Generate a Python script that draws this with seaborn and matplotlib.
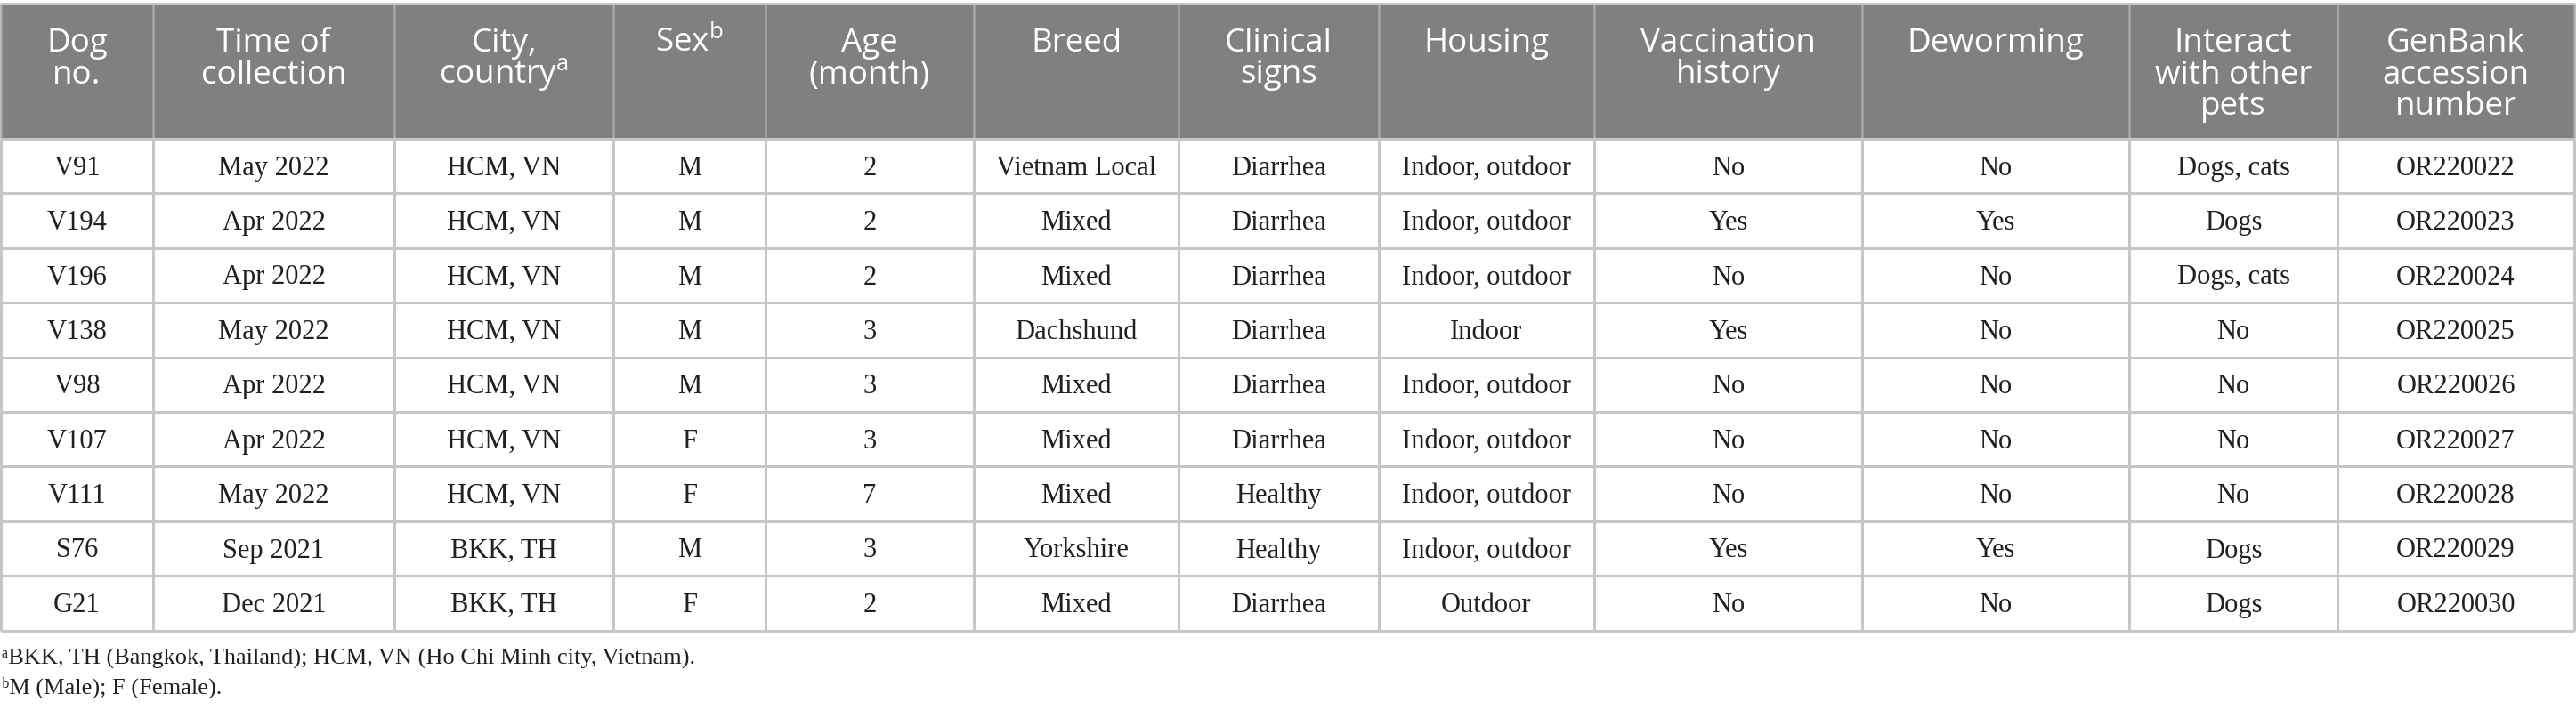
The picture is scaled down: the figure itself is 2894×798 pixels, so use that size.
import matplotlib
matplotlib.use("Agg")
import matplotlib.pyplot as plt
import seaborn as sns

# ---------------- data ----------------
headers = [
    ["Dog", "no."],
    ["Time of", "collection"],
    ["City,", r"country$^{\mathrm{a}}$"],
    [r"Sex$^{\mathrm{b}}$"],
    ["Age", "(month)"],
    ["Breed"],
    ["Clinical", "signs"],
    ["Housing"],
    ["Vaccination", "history"],
    ["Deworming"],
    ["Interact", "with other", "pets"],
    ["GenBank", "accession", "number"],
]
dog_no = ["V91", "V194", "V196", "V138", "V98", "V107", "V111", "S76", "G21"]
collection_time = ["May 2022", "Apr 2022", "Apr 2022", "May 2022", "Apr 2022",
                   "Apr 2022", "May 2022", "Sep 2021", "Dec 2021"]
city_country = ["HCM, VN", "HCM, VN", "HCM, VN", "HCM, VN", "HCM, VN",
                "HCM, VN", "HCM, VN", "BKK, TH", "BKK, TH"]
sex = ["M", "M", "M", "M", "M", "F", "F", "M", "F"]
age_month = [2, 2, 2, 3, 3, 3, 7, 3, 2]
breed = ["Vietnam Local", "Mixed", "Mixed", "Dachshund", "Mixed", "Mixed",
         "Mixed", "Yorkshire", "Mixed"]
clinical_signs = ["Diarrhea", "Diarrhea", "Diarrhea", "Diarrhea", "Diarrhea",
                  "Diarrhea", "Healthy", "Healthy", "Diarrhea"]
housing = ["Indoor, outdoor", "Indoor, outdoor", "Indoor, outdoor", "Indoor",
           "Indoor, outdoor", "Indoor, outdoor", "Indoor, outdoor",
           "Indoor, outdoor", "Outdoor"]
vaccination = ["No", "Yes", "No", "Yes", "No", "No", "No", "Yes", "No"]
deworming = ["No", "Yes", "No", "No", "No", "No", "No", "Yes", "No"]
interact = ["Dogs, cats", "Dogs", "Dogs, cats", "No", "No", "No", "No",
            "Dogs", "Dogs"]
genbank = ["OR220022", "OR220023", "OR220024", "OR220025", "OR220026",
           "OR220027", "OR220028", "OR220029", "OR220030"]
footnotes = ["\u1d43BKK, TH (Bangkok, Thailand); HCM, VN (Ho Chi Minh city, Vietnam).",
             "\u1d47M (Male); F (Female)."]

columns = [dog_no, collection_time, city_country, sex, age_month, breed,
           clinical_signs, housing, vaccination, deworming, interact, genbank]

# ---------------- layout ----------------
W, H = 2894, 798
col_edges = [1, 172, 443, 689, 860, 1094, 1324, 1549, 1791, 2092, 2392, 2626, 2892]
table_top = 4
header_bottom = 156
row_h = 61.4
header_first_baseline = 58
header_line_step = 35.5

sns.set_theme(style="white")
plt.rcParams["mathtext.fontset"] = "custom"
plt.rcParams["mathtext.rm"] = "Open Sans"
plt.rcParams["mathtext.it"] = "Open Sans"
plt.rcParams["mathtext.bf"] = "Open Sans"

fig = plt.figure(figsize=(W / 100, H / 100), dpi=100)
ax = fig.add_axes([0, 0, 1, 1])
ax.set_xlim(0, W)
ax.set_ylim(H, 0)
ax.axis("off")

n_rows = len(dog_no)
table_bottom = header_bottom + n_rows * row_h

header_bg = "#808080"
line_body = "#c6c6c6"
line_head = "#a9a9a9"
text_col = "#231f20"

# header background
ax.fill_between([col_edges[0], col_edges[-1]], table_top, header_bottom,
                color=header_bg, lw=0, zorder=1)

# horizontal lines
ax.hlines(table_top, col_edges[0], col_edges[-1], color=line_body, lw=2.2, zorder=3)
for i in range(n_rows + 1):
    y = header_bottom + i * row_h
    ax.hlines(y, col_edges[0], col_edges[-1], color=line_body, lw=2.2, zorder=3)

# vertical lines
for x in col_edges:
    ax.vlines(x, table_top, header_bottom, color=line_head, lw=1.8, zorder=2)
    ax.vlines(x, header_bottom, table_bottom, color=line_body, lw=2.2, zorder=2)

# header text
for j, lines in enumerate(headers):
    cx = (col_edges[j] + col_edges[j + 1]) / 2
    for k, t in enumerate(lines):
        ax.text(cx, header_first_baseline + k * header_line_step, t,
                ha="center", va="baseline", color="white", fontsize=26.5,
                family=["Open Sans", "DejaVu Sans"], zorder=4)

# body text
for j, col in enumerate(columns):
    cx = (col_edges[j] + col_edges[j + 1]) / 2
    for i, v in enumerate(col):
        cy = header_bottom + (i + 0.5) * row_h
        ax.text(cx, cy + 10, str(v), ha="center", va="baseline",
                color=text_col, fontsize=22,
                family=["Liberation Serif", "DejaVu Serif"], zorder=4)

# footnotes
for k, t in enumerate(footnotes):
    ax.text(2, 747 + k * 33, t, ha="left", va="baseline", color=text_col,
            fontsize=19, family=["Liberation Serif", "DejaVu Serif"], zorder=4)

fig.savefig("out.png", dpi=100, facecolor="white")
